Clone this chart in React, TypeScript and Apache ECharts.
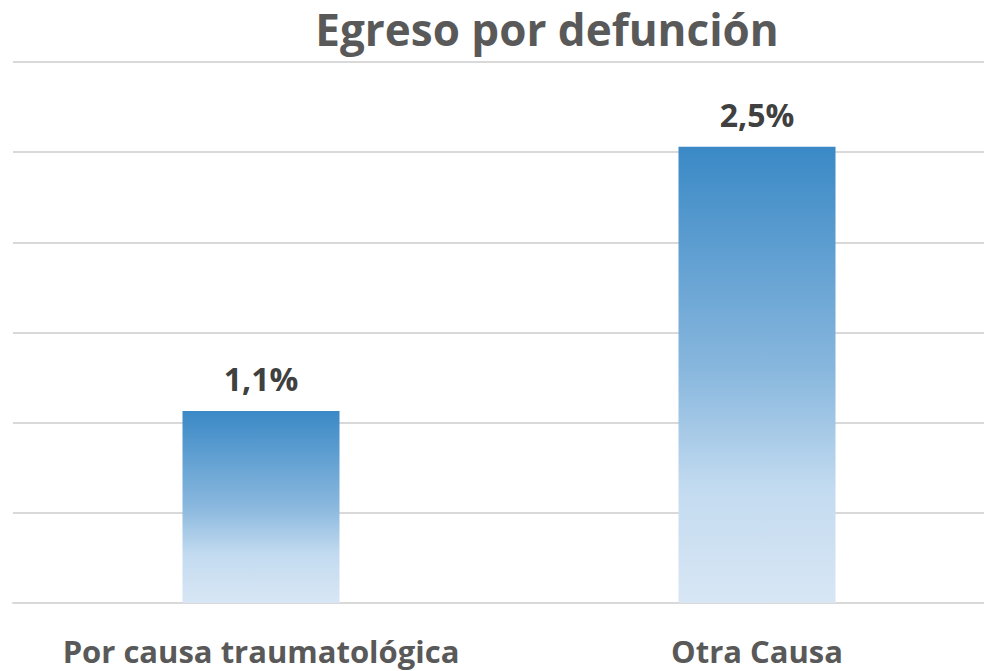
import React, { useEffect, useRef } from "react";
import * as echarts from "echarts";

const categories = ["Por causa traumatológica", "Otra Causa"];
const values = [1.065, 2.53];
const yMin = 0;
const yMax = 3;
const yInterval = 0.5;
const titleText = "Egreso por defunción";

export default function App() {
  const ref = useRef<HTMLDivElement>(null);
  useEffect(() => {
    if (!ref.current) return;
    const chart = echarts.init(ref.current, null, { renderer: "svg" });
    const font = "'Open Sans', 'Noto Sans', sans-serif";
    chart.setOption({
      animation: false,
      backgroundColor: "#ffffff",
      title: {
        text: titleText,
        left: 542,
        top: 2,
        textAlign: "center",
        textStyle: {
          fontFamily: font,
          fontWeight: "bold",
          fontSize: 44,
          color: "#595959",
        },
      },
      grid: {
        left: 13,
        width: 992,
        top: 62,
        bottom: 68,
        containLabel: false,
        outerBoundsMode: "none",
      },
      xAxis: {
        type: "category",
        data: categories,
        axisLine: { show: true, lineStyle: { color: "#d9d9d9", width: 2 } },
        axisTick: { show: false },
        axisLabel: {
          interval: 0,
          margin: 32,
          fontFamily: font,
          fontWeight: "bold",
          fontSize: 31,
          color: "#595959",
        },
      },
      yAxis: {
        type: "value",
        min: yMin,
        max: yMax,
        interval: yInterval,
        axisLabel: { show: false },
        axisLine: { show: false },
        axisTick: { show: false },
        splitLine: { lineStyle: { color: "#d9d9d9", width: 2 } },
      },
      series: [
        {
          type: "bar",
          data: values,
          barWidth: 157,
          itemStyle: {
            color: new echarts.graphic.LinearGradient(0, 0, 0, 1, [
              { offset: 0, color: "#3a89c6" },
              { offset: 0.5, color: "#8ab8de" },
              { offset: 0.75, color: "#c3dbf0" },
              { offset: 1, color: "#d8e6f4" },
            ]),
          },
          label: {
            show: true,
            position: "top",
            distance: 16,
            formatter: (p: any) => p.value.toFixed(1).replace(".", ",") + "%",
            fontFamily: font,
            fontWeight: "bold",
            fontSize: 32,
            color: "#404040",
          },
        },
      ],
    });
    return () => chart.dispose();
  }, []);
  return <div ref={ref} style={{ width: 984, height: 671, position: "absolute", left: 0, top: 0 }} />;
}
